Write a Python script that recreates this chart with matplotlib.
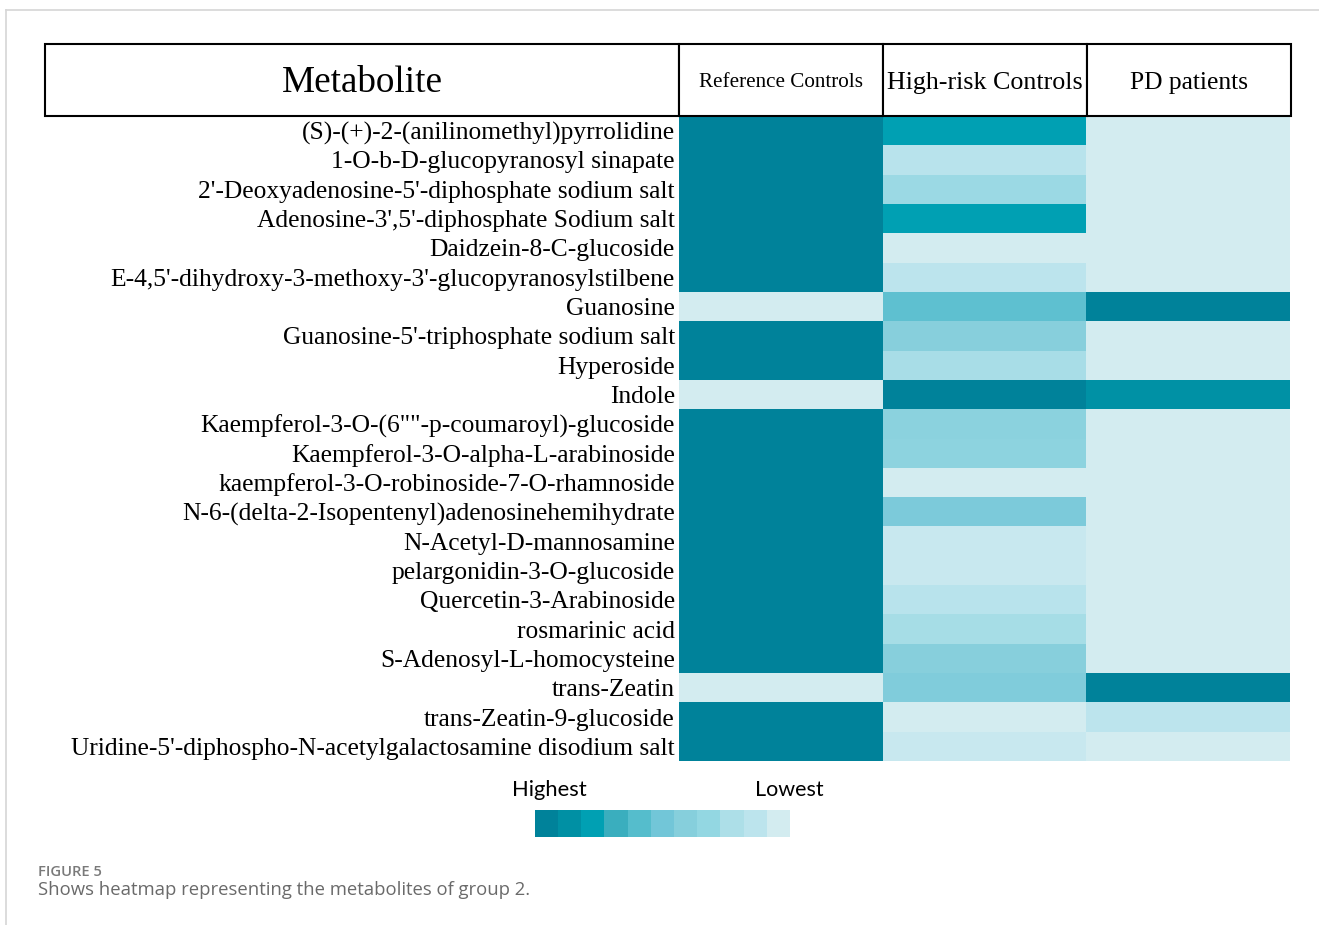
import numpy as np
import matplotlib
matplotlib.use('Agg')
import matplotlib.pyplot as plt
from matplotlib.colors import LinearSegmentedColormap
from matplotlib.patches import Rectangle
from matplotlib.lines import Line2D

# ---- data ----
metabolites = [
    "(S)-(+)-2-(anilinomethyl)pyrrolidine",
    "1-O-b-D-glucopyranosyl sinapate",
    "2'-Deoxyadenosine-5'-diphosphate sodium salt",
    "Adenosine-3',5'-diphosphate Sodium salt",
    "Daidzein-8-C-glucoside",
    "E-4,5'-dihydroxy-3-methoxy-3'-glucopyranosylstilbene",
    "Guanosine",
    "Guanosine-5'-triphosphate sodium salt",
    "Hyperoside",
    "Indole",
    "Kaempferol-3-O-(6\"\"-p-coumaroyl)-glucoside",
    "Kaempferol-3-O-alpha-L-arabinoside",
    "kaempferol-3-O-robinoside-7-O-rhamnoside",
    "N-6-(delta-2-Isopentenyl)adenosinehemihydrate",
    "N-Acetyl-D-mannosamine",
    "pelargonidin-3-O-glucoside",
    "Quercetin-3-Arabinoside",
    "rosmarinic acid",
    "S-Adenosyl-L-homocysteine",
    "trans-Zeatin",
    "trans-Zeatin-9-glucoside",
    "Uridine-5'-diphospho-N-acetylgalactosamine disodium salt",
]
groups = ["Reference Controls", "High-risk Controls", "PD patients"]

# rank on the 11-step scale: 0 = highest, 10 = lowest
reference_controls = [0, 0, 0, 0, 0, 0, 10, 0, 0, 10, 0, 0, 0, 0, 0, 0, 0, 0, 0, 10, 0, 0]
high_risk_controls = [2, 8.7, 7.3, 2, 10, 9, 4.3, 6, 7.8, 0, 6.3, 6.5, 10, 5.5,
                      9.5, 9.5, 8.7, 7.7, 6, 5.7, 10, 9.5]
pd_patients = [10, 10, 10, 10, 10, 10, 0, 10, 10, 1, 10, 10, 10, 10, 10, 10, 10,
               10, 10, 0, 9, 10]

scale_colors = ["#00829A", "#0091A5", "#00A0B3", "#3CAFBF", "#55BDCC", "#72C6D8",
                "#87CFDC", "#93D7E2", "#ADDFE8", "#BCE4ED", "#D3ECF0"]
scale_levels = list(range(11))

W, H = 1319, 925


def fx(px):
    return px / W


def fy(py):
    return 1 - py / H


cmap = LinearSegmentedColormap.from_list("teal", scale_colors)
values = np.array([reference_controls, high_risk_controls, pd_patients]).T

fig = plt.figure(figsize=(W / 100, H / 100), dpi=100)

# page frame
fig.add_artist(Line2D([fx(6), 1], [fy(10), fy(10)], color="#d6d6d6", lw=1.2))
fig.add_artist(Line2D([fx(6), fx(6)], [0, fy(10)], color="#d6d6d6", lw=1.2))

# heatmap
ax = fig.add_axes([fx(679), fy(761), fx(1290) - fx(679), fy(116) - fy(761)])
ax.pcolormesh(np.arange(4), np.arange(len(metabolites) + 1), values,
              cmap=cmap, vmin=0, vmax=10)
ax.set_xlim(0, 3)
ax.set_ylim(len(metabolites), 0)
ax.set_yticks(np.arange(len(metabolites)) + 0.5)
ax.set_yticklabels(metabolites, fontfamily="Liberation Serif", fontsize=18.4)
ax.tick_params(axis="y", length=0, pad=3)
ax.set_xticks([])
for s in ax.spines.values():
    s.set_visible(False)

# header row
hx = fig.add_axes([fx(45), fy(116), fx(1291) - fx(45), fy(44) - fy(116)])
w0 = (679 - 45) / ((1291 - 679) / 3)
hx.set_xlim(-w0, 3)
hx.set_ylim(0, 1)
hx.axis("off")
edges = [-w0, 0, 1, 2, 3]
for i in range(4):
    hx.add_patch(Rectangle((edges[i], 0), edges[i + 1] - edges[i], 1,
                           facecolor="white", edgecolor="black", lw=1.5,
                           clip_on=False))
hx.text(-w0 / 2, 0.46, "Metabolite", ha="center", va="center",
        fontfamily="Liberation Serif", fontsize=26.7)
header_sizes = [15.2, 18.7, 18.4]
for i, g in enumerate(groups):
    hx.text(i + 0.5, 0.46, g, ha="center", va="center",
            fontfamily="Liberation Serif", fontsize=header_sizes[i])

# legend swatches
lx = fig.add_axes([fx(535), fy(837), fx(790) - fx(535), fy(810) - fy(837)])
lx.imshow(np.array([scale_levels]), cmap=cmap, vmin=0, vmax=10, aspect="auto")
lx.axis("off")
fig.text(fx(549), fy(790), "Highest", ha="center", va="center",
         fontfamily="Lato", fontsize=15.8)
fig.text(fx(789), fy(790), "Lowest", ha="center", va="center",
         fontfamily="Lato", fontsize=15.5)

# caption
fig.text(fx(38), fy(872), "FIGURE 5", ha="left", va="center",
         fontfamily="Open Sans", fontsize=10.6, fontweight="semibold",
         color="#7a7a7a")
fig.text(fx(38), fy(890), "Shows heatmap representing the metabolites of group 2.",
         ha="left", va="center", fontfamily="Open Sans", fontsize=13.3,
         color="#6a6a6a")

fig.savefig("out.png", dpi=100)
